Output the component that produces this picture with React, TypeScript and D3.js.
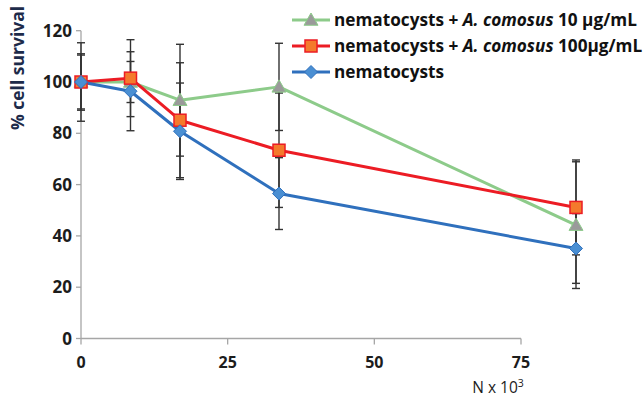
import React from "react";
import * as d3 from "d3";

const xValues = [0, 7.5, 15, 30, 75];
const greenValues = [100, 100, 92.9, 98.1, 44.2];
const greenErr = [11, 8, 21.8, 17, 24.7];
const redValues = [100, 101.5, 85.1, 73.4, 51.1];
const redErr = [10.5, 15, 22.4, 22.3, 18.5];
const blueValues = [100, 96.4, 80.8, 56.5, 35.1];
const blueErr = [15.3, 15.4, 18.8, 14, 13.6];
const xTickLabels = ["0", "25", "50", "75"];
const yTicks = [0, 20, 40, 60, 80, 100, 120];

const W = 644;
const H = 397;
const FONT = "'Open Sans', Lato, sans-serif";

type Series = {
  key: string;
  values: number[];
  err: number[];
  line: string;
  fill: string;
  stroke: string;
  marker: "triangle" | "square" | "diamond";
};

const series: Series[] = [
  { key: "green", values: greenValues, err: greenErr, line: "#8dcb8a", fill: "#9a9a9a", stroke: "#8dcb8a", marker: "triangle" },
  { key: "red", values: redValues, err: redErr, line: "#ec1c24", fill: "#f47a2c", stroke: "#ec1c24", marker: "square" },
  { key: "blue", values: blueValues, err: blueErr, line: "#2f70bd", fill: "#4a8fd3", stroke: "#2f70bd", marker: "diamond" },
];

function Marker({ type, x, y, fill, stroke }: { type: string; x: number; y: number; fill: string; stroke: string }) {
  if (type === "square") {
    return <rect x={x - 6} y={y - 6} width={12} height={12} fill={fill} stroke={stroke} strokeWidth={1.5} />;
  }
  if (type === "triangle") {
    const s = 7;
    return <path d={`M${x},${y - s} L${x + s},${y + s * 0.75} L${x - s},${y + s * 0.75} Z`} fill={fill} stroke={stroke} strokeWidth={1} />;
  }
  const s = 6.5;
  return <path d={`M${x},${y - s} L${x + s},${y} L${x},${y + s} L${x - s},${y} Z`} fill={fill} stroke={stroke} strokeWidth={1} />;
}

export default function App() {
  const x = d3.scaleLinear().domain([0, 75]).range([81, 576]);
  const xTick = d3.scalePoint<string>().domain(xTickLabels).range([81, 521]);
  const y = d3.scaleLinear().domain([0, 120]).range([338.5, 30.7]);
  const line = d3
    .line<number>()
    .x((_, i) => x(xValues[i]))
    .y((d) => y(d));

  const legendRows = [
    { s: series[0], dose: "10\u00A0\u00B5g/mL" },
    { s: series[1], dose: "100\u00B5g/mL" },
    { s: series[2], dose: null as string | null },
  ];
  const legendY = [20, 46, 72];

  return (
    <svg width={W} height={H} style={{ position: "absolute", left: 0, top: 0, background: "#fff" }}>
      <rect x={0} y={0} width={W} height={H} fill="#fff" />
      {/* axes */}
      <line x1={81} x2={81} y1={y(120)} y2={y(0)} stroke="#a6a6a6" strokeWidth={1.3} />
      <line x1={81} x2={xTick("75")!} y1={y(0)} y2={y(0)} stroke="#a6a6a6" strokeWidth={1.3} />
      {yTicks.map((t) => (
        <g key={t}>
          <line x1={76} x2={81} y1={y(t)} y2={y(t)} stroke="#a6a6a6" strokeWidth={1.3} />
          <text x={72} y={y(t)} dy="0.36em" textAnchor="end" fontFamily={FONT} fontWeight={700} fontSize={17} fill="#1c1c1c">
            {t}
          </text>
        </g>
      ))}
      {xTickLabels.map((t) => (
        <g key={t}>
          <line x1={xTick(t)!} x2={xTick(t)!} y1={y(0)} y2={y(0) + 6} stroke="#a6a6a6" strokeWidth={1.3} />
          <text x={xTick(t)!} y={368} textAnchor="middle" fontFamily={FONT} fontWeight={700} fontSize={16} fill="#1c1c1c">
            {t}
          </text>
        </g>
      ))}
      <text x={498} y={393} textAnchor="middle" fontFamily={FONT} fontSize={15.5} fill="#1c1c1c">
        N x 10<tspan dy={-6} fontSize={10.5}>3</tspan>
      </text>
      <text transform={`translate(24,${68}) rotate(-90)`} textAnchor="middle" fontFamily={FONT} fontWeight={700} fontSize={17.5} fill="#1d2b4a">
        % cell survival
      </text>

      {/* lines */}
      {series.map((s) => (
        <path key={s.key} d={line(s.values)!} fill="none" stroke={s.line} strokeWidth={3} strokeLinejoin="round" />
      ))}
      {/* error bars */}
      {series.map((s) =>
        s.values.map((v, i) => {
          const cx = x(xValues[i]);
          const y1 = y(v + s.err[i]);
          const y2 = y(v - s.err[i]);
          return (
            <g key={s.key + i} stroke="#333" strokeWidth={1.4}>
              <line x1={cx} x2={cx} y1={y1} y2={y2} />
              <line x1={cx - 4} x2={cx + 4} y1={y1} y2={y1} />
              <line x1={cx - 4} x2={cx + 4} y1={y2} y2={y2} />
            </g>
          );
        })
      )}
      {/* markers */}
      {series.map((s) =>
        s.values.map((v, i) => (
          <Marker key={s.key + "m" + i} type={s.marker} x={x(xValues[i])} y={y(v)} fill={s.fill} stroke={s.stroke} />
        ))
      )}

      {/* legend */}
      {legendRows.map((r, i) => (
        <g key={r.s.key}>
          <line x1={292} x2={330} y1={legendY[i]} y2={legendY[i]} stroke={r.s.line} strokeWidth={3} />
          <Marker type={r.s.marker} x={311} y={legendY[i]} fill={r.s.fill} stroke={r.s.stroke} />
          <text x={334} y={legendY[i]} dy="0.35em" fontFamily={FONT} fontWeight={700} fontSize={17.2} fill="#111">
            nematocysts
            {r.dose !== null && (
              <>
                {" + "}
                <tspan fontStyle="italic">A. comosus</tspan>
                {" " + r.dose}
              </>
            )}
          </text>
        </g>
      ))}
    </svg>
  );
}
